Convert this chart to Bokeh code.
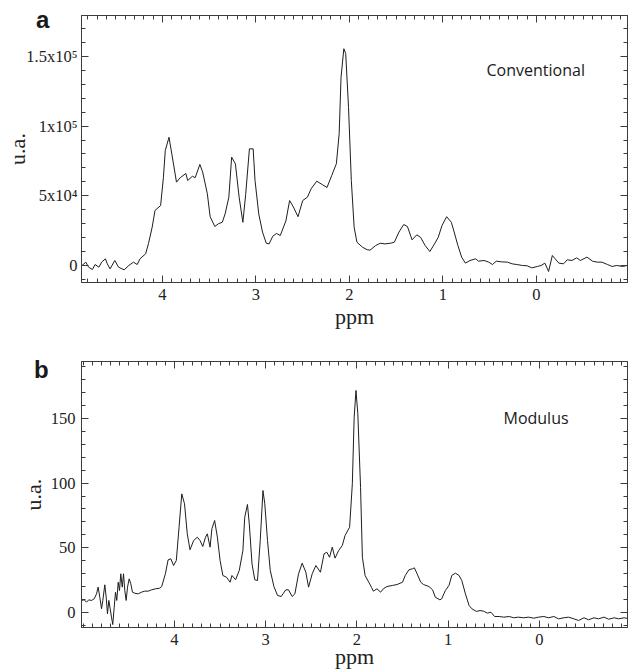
import numpy as np
from bokeh.plotting import figure
from bokeh.models import Range1d, LinearAxis, FixedTicker, Label, GridBox, Div
from bokeh.embed import file_html
from bokeh.resources import INLINE

# ---------------- data ----------------
conv_ppm = [4.86, 4.82, 4.79, 4.75, 4.72, 4.68, 4.65, 4.61, 4.59, 4.56,
            4.51, 4.47, 4.41, 4.36, 4.31, 4.27, 4.24, 4.18, 4.15, 4.11,
            4.08, 4.02, 3.99, 3.97, 3.93, 3.90, 3.85, 3.81, 3.75, 3.73,
            3.68, 3.65, 3.60, 3.57, 3.52, 3.49, 3.44, 3.40, 3.36, 3.33,
            3.29, 3.26, 3.22, 3.18, 3.14, 3.11, 3.07, 3.03, 3.01, 2.97,
            2.93, 2.89, 2.86, 2.82, 2.78, 2.74, 2.68, 2.64, 2.60, 2.55,
            2.50, 2.45, 2.41, 2.35, 2.29, 2.24, 2.19, 2.14, 2.11, 2.09,
            2.06, 2.04, 2.01, 1.98, 1.95, 1.92, 1.86, 1.81, 1.78, 1.72,
            1.67, 1.62, 1.56, 1.52, 1.47, 1.42, 1.38, 1.33, 1.28, 1.24,
            1.19, 1.14, 1.09, 1.05, 1.01, 0.96, 0.91, 0.88, 0.84, 0.80,
            0.76, 0.71, 0.65, 0.62, 0.56, 0.51, 0.47, 0.43, 0.37, 0.31,
            0.26, 0.21, 0.15, 0.10, 0.05, -0.01, -0.05, -0.09, -0.13, -0.17,
            -0.20, -0.24, -0.29, -0.33, -0.38, -0.43, -0.47, -0.54, -0.60, -0.65,
            -0.70, -0.76, -0.81, -0.86, -0.92, -0.97]
conv_signal = [0, 2400, -1200, -2900, 700, -1200, 2400, 4800, 1200, -2400,
               3600, -1200, -3100, 0, 2400, 700, 4800, 8400, 15600, 27500,
               39500, 43000, 63000, 82500, 92000, 80000, 59800, 63000, 66000, 61000,
               64000, 63000, 72500, 67000, 51500, 35000, 28000, 30000, 31000, 37000,
               49000, 77700, 73000, 49000, 31000, 51000, 83700, 83700, 61000, 37000,
               24000, 16000, 15500, 21000, 23000, 21500, 32000, 46600, 42000, 35000,
               46600, 49000, 55000, 60500, 58000, 56000, 64500, 73000, 94500, 135000,
               155500, 152000, 113500, 61000, 27500, 16700, 13100, 11300, 11000, 14300,
               16000, 15500, 16000, 16700, 24000, 29400, 28000, 18400, 22000, 20300,
               14300, 10000, 15500, 20300, 28700, 35000, 31000, 24000, 14300, 6000,
               1700, 3600, 4800, 3100, 3600, 2400, 700, 3100, 2600, 2400,
               1200, 700, 0, -200, -1700, -700, 0, 1700, -4300, 7200,
               4800, 1700, 1200, 4100, 3600, 5500, 3600, 6000, 3100, 2400,
               2400, 700, -700, 0, -700, 0]

mod_ppm = [5.02, 4.99, 4.965, 4.94, 4.91, 4.88, 4.855, 4.837, 4.819, 4.80,
           4.786, 4.764, 4.749, 4.735, 4.72, 4.705, 4.691, 4.677, 4.661, 4.647,
           4.633, 4.617, 4.603, 4.589, 4.573, 4.559, 4.545, 4.53, 4.515, 4.497,
           4.479, 4.461, 4.435, 4.398, 4.362, 4.326, 4.288, 4.252, 4.208, 4.161,
           4.14, 4.10, 4.07, 4.04, 4.01, 3.98, 3.95,
           3.92, 3.89, 3.86, 3.83, 3.79, 3.75, 3.72, 3.69, 3.66, 3.64,
           3.61, 3.59, 3.56, 3.53, 3.50, 3.47, 3.43, 3.39, 3.37, 3.33,
           3.29, 3.25, 3.23, 3.20, 3.18, 3.15, 3.12, 3.09, 3.06, 3.03,
           3.01, 2.98, 2.95, 2.91, 2.87, 2.83, 2.78, 2.75, 2.71, 2.68,
           2.64, 2.60, 2.56, 2.53, 2.49, 2.45, 2.40, 2.36, 2.33, 2.30,
           2.27, 2.24, 2.20, 2.16, 2.13, 2.08, 2.05, 2.03, 2.01, 1.99,
           1.96, 1.94, 1.91, 1.87, 1.84, 1.82, 1.78, 1.74, 1.71, 1.67,
           1.61, 1.56, 1.50, 1.47, 1.43, 1.39, 1.37, 1.34, 1.30, 1.27,
           1.21, 1.17, 1.14, 1.09, 1.07, 1.03, 0.99, 0.96, 0.92, 0.88,
           0.85, 0.81, 0.77, 0.74, 0.69, 0.65, 0.61, 0.57, 0.53, 0.49,
           0.44, 0.39, 0.33, 0.28, 0.23, 0.17, 0.12, 0.06, 0.01, -0.05,
           -0.10, -0.16, -0.21, -0.27, -0.32, -0.38, -0.43, -0.49, -0.54, -0.60,
           -0.65, -0.71, -0.76, -0.82, -0.87, -0.93, -0.97]
mod_signal = [9.3, 9.8, 8.0, 9.8, 9.3, 10.6, 14.4, 19.6, 11.8, 2.9,
              9.3, 21.4, 11.8, -1.0, 9.3, 2.9, -3.6, -9.3, 4.1, 15.7,
              9.3, 23.4, 17.0, 29.9, 19.6, 29.9, 17.0, 9.3, 19.6, 26.0,
              22.2, 15.7, 14.9, 14.4, 15.7, 16.5, 16.5, 17.5, 18.3, 18.8,
              20.1, 29.9, 40.7, 41.5, 36.3, 40.2, 65.9,
              91.7, 84.0, 60.8, 48.5, 55.6, 58.2, 55.6, 51.0, 58.2, 60.8,
              50.5, 64.7, 71.1, 58.2, 40.2, 28.6, 27.3, 23.4, 28.6, 25.3,
              32.5, 47.9, 73.6, 83.5, 68.5, 37.6, 25.3, 24.7, 55.6, 94.3,
              84.0, 55.6, 32.5, 20.1, 13.1, 12.4, 17.5, 17.5, 12.4, 14.4,
              29.9, 38.1, 31.1, 19.6, 29.9, 36.3, 31.1, 45.4, 46.6, 42.7,
              50.5, 42.0, 47.9, 51.8, 59.5, 65.9, 99.5, 150.9, 171.6, 153.6,
              96.8, 42.7, 28.6, 23.4, 19.5, 16.5, 18.3, 15.7, 18.3, 20.1,
              20.9, 21.6, 23.4, 28.6, 33.0, 33.8, 34.5, 29.9, 23.4, 21.6,
              20.1, 17.5, 11.8, 9.8, 10.6, 17.0, 20.9, 28.6, 30.4, 28.6,
              24.7, 14.4, 5.4, 2.9, 0.8, 1.5, 1.0, -0.5, 0.2, -3.1,
              -3.1, -3.6, -3.1, -4.1, -3.6, -4.1, -3.6, -4.4, -3.6, -3.1,
              -4.1, -3.1, -4.9, -4.1, -3.6, -4.9, -6.2, -4.1, -5.6, -4.1,
              -4.9, -3.6, -5.2, -4.1, -4.9, -4.1, -4.6]

x_major = [4, 3, 2, 1, 0]
x_labels = ["4", "3", "2", "1", "0"]
conv_y_major = [0, 50000, 100000, 150000]
conv_y_labels = ["0", "5x10\u2074", "1x10\u2075", "1.5x10\u2075"]
mod_y_major = [0, 50, 100, 150]
mod_y_labels = ["0", "50", "100", "150"]

x_minor = [round(v, 2) for v in np.arange(-1.0, 5.05, 0.1)]
conv_y_minor = list(range(-10000, 180001, 10000))
mod_y_minor = list(range(-10, 191, 10))

AX = "#3c3c3c"
SERIF = "Liberation Serif"


def style_axis(ax, major_ticks, minor_ticks, labels=None):
    ax.ticker = FixedTicker(ticks=major_ticks, minor_ticks=minor_ticks)
    ax.axis_line_color = AX
    ax.axis_line_width = 1
    ax.major_tick_line_color = AX
    ax.minor_tick_line_color = AX
    ax.major_tick_in = 7
    ax.major_tick_out = 0
    ax.minor_tick_in = 4
    ax.minor_tick_out = 0
    if labels is None:
        ax.major_label_overrides = {t: "" for t in major_ticks}
        ax.major_label_text_font_size = "0px"
        ax.major_label_standoff = 0
    else:
        ax.major_label_overrides = dict(zip(major_ticks, labels))
        ax.major_label_text_font = SERIF
        ax.major_label_text_font_size = "16.5px"
        ax.major_label_text_color = "#222222"
        ax.axis_label_text_font = SERIF
        ax.axis_label_text_font_size = "22px"
        ax.axis_label_text_font_style = "normal"
        ax.axis_label_text_color = "#222222"


def make_panel(xs, ys, xr, yr, height, top, bottom, y_major, y_minor, y_labels,
               name, name_x, name_y, ylab_standoff, ytick_standoff, xlab_standoff):
    p = figure(width=628, height=height, output_backend="svg",
               toolbar_location=None, x_range=Range1d(*xr),
               y_range=Range1d(*yr), min_border_left=81,
               min_border_right=1, min_border_top=top,
               min_border_bottom=bottom)
    p.xgrid.visible = False
    p.ygrid.visible = False
    p.background_fill_color = "white"
    p.border_fill_color = "white"
    p.outline_line_color = AX

    p.line(xs, ys, line_color="#1e1e1e", line_width=1)

    style_axis(p.xaxis[0], x_major, x_minor, x_labels)
    p.xaxis[0].axis_label = "ppm"
    p.xaxis[0].major_label_standoff = 6
    p.xaxis[0].axis_label_standoff = xlab_standoff

    style_axis(p.yaxis[0], y_major, y_minor, y_labels)
    p.yaxis[0].axis_label = "u.a."
    p.yaxis[0].major_label_standoff = ytick_standoff
    p.yaxis[0].axis_label_standoff = ylab_standoff

    top_ax = LinearAxis()
    style_axis(top_ax, x_major, x_minor)
    p.add_layout(top_ax, "above")
    right_ax = LinearAxis()
    style_axis(right_ax, y_major, y_minor)
    p.add_layout(right_ax, "right")

    p.add_layout(Label(x=name_x, y=name_y, x_units="screen", y_units="screen",
                       text=name, text_font="Open Sans",
                       text_font_size="16px", text_color="#1a1a1a",
                       text_baseline="alphabetic"))
    return p


p1 = make_panel(conv_ppm, conv_signal, (4.866, -0.974), (-12196, 179350),
                340, 15, 58, conv_y_major, conv_y_minor, conv_y_labels,
                "Conventional", 405, 213,
                ylab_standoff=-7, ytick_standoff=4, xlab_standoff=1)
p2 = make_panel(mod_ppm, mod_signal, (5.0197, -0.967), (-11.6, 194.0),
                332, 21, 45, mod_y_major, mod_y_minor, mod_y_labels,
                "Modulus", 422, 210,
                ylab_standoff=2, ytick_standoff=6, xlab_standoff=-4)

letter_style = {"font-family": "Liberation Sans", "font-weight": "bold",
                "font-size": "24px", "line-height": "22px", "color": "#1a1a1a"}
div_a = Div(text="a", styles=letter_style, margin=(9, 0, 0, 36), width=20, height=22)
div_b = Div(text="b", styles=letter_style, margin=(19, 0, 0, 34), width=20, height=22)

layout = GridBox(children=[(p1, 0, 0), (p2, 1, 0), (div_a, 0, 0), (div_b, 1, 0)],
                 spacing=0)
open("out.html", "w").write(file_html(layout, INLINE))
